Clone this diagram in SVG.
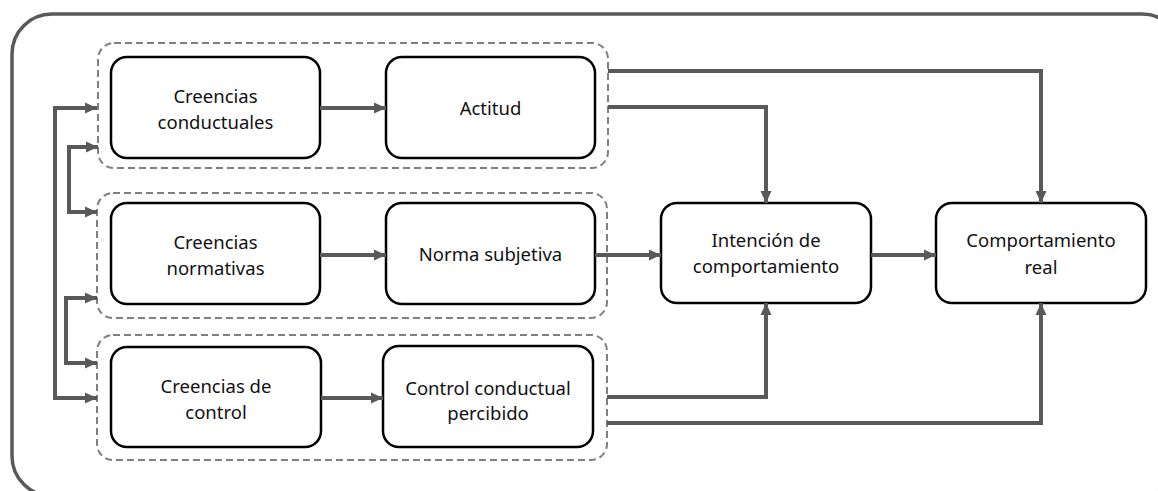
<svg xmlns="http://www.w3.org/2000/svg" width="1158" height="491" viewBox="0 0 1158 491">
<defs>
<marker id="ah" viewBox="0 0 12 12" refX="12" refY="6" markerWidth="12" markerHeight="12" markerUnits="userSpaceOnUse" orient="auto-start-reverse">
<path d="M0,0.5 L12,6 L0,11.5 z" fill="#595959"/>
</marker>
<style>
.frame{fill:#fff;stroke:#595959;stroke-width:3.5}
.grp{fill:none;stroke:#808080;stroke-width:2;stroke-dasharray:7 4}
.node rect{fill:#fff;stroke:#000;stroke-width:2.5}
.node text{font-family:"Noto Sans","Open Sans",sans-serif;font-size:18.5px;fill:#111;text-anchor:middle}
.conn path{fill:none;stroke:#595959;stroke-width:4;marker-end:url(#ah)}
.conn path.both{marker-start:url(#ah)}
</style>
</defs>
<rect x="0" y="0" width="1158" height="491" fill="#fff"/>
<rect class="frame" x="12" y="14" width="1170" height="482" rx="40"/>
<g id="groups">
<rect class="grp" x="98" y="43" width="510" height="125" rx="16"/>
<rect class="grp" x="97" y="193" width="510" height="125" rx="16"/>
<rect class="grp" x="97" y="335" width="510" height="125" rx="16"/>
</g>
<g id="creencias-conductuales" class="node">
<rect x="111" y="57" width="209" height="101" rx="16"/>
<text x="215.5" y="102.5">Creencias</text>
<text x="215.5" y="128.5">conductuales</text>
</g>
<g id="actitud" class="node">
<rect x="386" y="57" width="209" height="101" rx="16"/>
<text x="490.5" y="114.5">Actitud</text>
</g>
<g id="creencias-normativas" class="node">
<rect x="111" y="203" width="209" height="101" rx="16"/>
<text x="215.5" y="248.5">Creencias</text>
<text x="215.5" y="274.5">normativas</text>
</g>
<g id="norma-subjetiva" class="node">
<rect x="386" y="203" width="209" height="101" rx="16"/>
<text x="490.5" y="261">Norma subjetiva</text>
</g>
<g id="creencias-control" class="node">
<rect x="111" y="347" width="210" height="100" rx="16"/>
<text x="216" y="393">Creencias de</text>
<text x="216" y="419">control</text>
</g>
<g id="control-percibido" class="node">
<rect x="383" y="346" width="210" height="101" rx="16"/>
<text x="488" y="395">Control conductual</text>
<text x="488" y="420">percibido</text>
</g>
<g id="intencion" class="node">
<rect x="661" y="203" width="210" height="100" rx="16"/>
<text x="766" y="247">Intención de</text>
<text x="766" y="273">comportamiento</text>
</g>
<g id="comportamiento-real" class="node">
<rect x="936" y="203" width="210" height="100" rx="16"/>
<text x="1041" y="247">Comportamiento</text>
<text x="1041" y="274">real</text>
</g>
<g id="connectors" class="conn">
<path d="M320,108 H386"/>
<path d="M320,255 H386"/>
<path d="M321,398 H383"/>
<path d="M608,71 H1041 V203"/>
<path d="M608,107 H766 V203"/>
<path d="M595,255 H661"/>
<path d="M871,255 H936"/>
<path d="M607,397 H766 V303"/>
<path d="M607,423 H1041 V303"/>
<path class="both" d="M97,108 H55 V398 H97"/>
<path class="both" d="M98,147 H69 V212 H97"/>
<path class="both" d="M97,298 H66 V363 H97"/>
</g>
</svg>
